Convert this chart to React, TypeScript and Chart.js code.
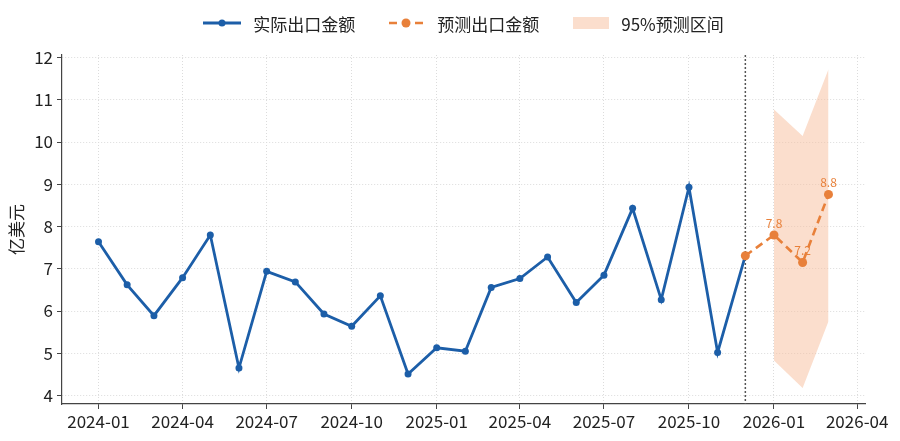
import React, { useEffect, useRef } from "react";
import { Chart, registerables } from "chart.js";

Chart.register(...registerables);

// ---- data ----
const actualDates = [
  "2024-01", "2024-02", "2024-03", "2024-04", "2024-05", "2024-06",
  "2024-07", "2024-08", "2024-09", "2024-10", "2024-11", "2024-12",
  "2025-01", "2025-02", "2025-03", "2025-04", "2025-05", "2025-06",
  "2025-07", "2025-08", "2025-09", "2025-10", "2025-11", "2025-12",
];
const actualValues = [
  7.64, 6.62, 5.89, 6.79, 7.8, 4.65,
  6.94, 6.69, 5.93, 5.64, 6.36, 4.51,
  5.13, 5.05, 6.56, 6.77, 7.28, 6.2,
  6.85, 8.43, 6.27, 8.93, 5.02, 7.31,
];
const forecastDates = ["2025-12", "2026-01", "2026-02", "2026-03"];
const forecastValues = [7.31, 7.8, 7.15, 8.76];
const bandDates = ["2026-01", "2026-02", "2026-03"];
const bandUpper = [10.77, 10.14, 11.72];
const bandLower = [4.83, 4.18, 5.76];
const xTickLabels = [
  "2024-01", "2024-04", "2024-07", "2024-10", "2025-01",
  "2025-04", "2025-07", "2025-10", "2026-01", "2026-04",
];
const yTickValues = [4, 5, 6, 7, 8, 9, 10, 11, 12];
const splitDate = "2025-12";

const LABEL_ACTUAL = "实际出口金额";
const LABEL_FORECAST = "预测出口金额";
const LABEL_BAND = "95%预测区间";
const Y_TITLE = "亿美元";

// ---- helpers ----
const BASE = Date.UTC(2024, 0, 1);
function toDays(ym: string): number {
  const [y, m] = ym.split("-").map(Number);
  return (Date.UTC(y, m - 1, 1) - BASE) / 86400000;
}

const FONT = '"Noto Sans CJK SC", "Noto Sans", sans-serif';
const BLUE = "#1c5ea8";
const ORANGE = "#e8803a";
const BAND = "rgba(247,190,155,0.5)";

const splitLinePlugin = {
  id: "splitLine",
  beforeDatasetsDraw(chart: any) {
    const { ctx, chartArea, scales } = chart;
    const x = scales.x.getPixelForValue(toDays(splitDate));
    ctx.save();
    ctx.strokeStyle = "#555";
    ctx.lineWidth = 1.5;
    ctx.setLineDash([2, 2]);
    ctx.beginPath();
    ctx.moveTo(x, chartArea.top);
    ctx.lineTo(x, chartArea.bottom);
    ctx.stroke();
    ctx.restore();
  },
};

const valueLabelPlugin = {
  id: "valueLabels",
  afterDatasetsDraw(chart: any) {
    const { ctx, scales } = chart;
    const split = toDays(splitDate);
    ctx.save();
    ctx.fillStyle = ORANGE;
    ctx.font = `12px ${FONT}`;
    ctx.textAlign = "center";
    ctx.textBaseline = "bottom";
    forecastDates.forEach((d, i) => {
      const xv = toDays(d);
      if (xv <= split) return;
      const x = scales.x.getPixelForValue(xv);
      const y = scales.y.getPixelForValue(forecastValues[i]);
      ctx.fillText(forecastValues[i].toFixed(1), x, y - 6);
    });
    ctx.restore();
  },
};

function LegendItem({ kind, label }: { kind: string; label: string }) {
  let handle: React.ReactNode;
  if (kind === "actual") {
    handle = (
      <svg width="38" height="14">
        <line x1="0" y1="7" x2="38" y2="7" stroke={BLUE} strokeWidth="2.8" />
        <circle cx="19" cy="7" r="3.5" fill={BLUE} />
      </svg>
    );
  } else if (kind === "forecast") {
    handle = (
      <svg width="36" height="14">
        <line x1="0" y1="7" x2="36" y2="7" stroke={ORANGE} strokeWidth="2.6" strokeDasharray="8 5" />
        <circle cx="17" cy="7" r="4.5" fill={ORANGE} />
      </svg>
    );
  } else {
    handle = (
      <svg width="36" height="14">
        <rect x="0" y="1" width="36" height="12" fill={BAND} />
      </svg>
    );
  }
  return (
    <div style={{ display: "flex", alignItems: "center", marginRight: 34 }}>
      {handle}
      <span style={{ marginLeft: 12, fontSize: 17, color: "#222", fontFamily: FONT, whiteSpace: "nowrap" }}>
        {label}
      </span>
    </div>
  );
}

export default function App() {
  const canvasRef = useRef<HTMLCanvasElement | null>(null);

  useEffect(() => {
    if (!canvasRef.current) return;
    const chart = new Chart(canvasRef.current, {
      type: "line",
      data: {
        datasets: [
          {
            label: LABEL_BAND + "上",
            data: bandDates.map((d, i) => ({ x: toDays(d), y: bandUpper[i] })),
            borderWidth: 0,
            pointRadius: 0,
            backgroundColor: BAND,
            fill: "+1",
            order: 3,
          },
          {
            label: LABEL_BAND + "下",
            data: bandDates.map((d, i) => ({ x: toDays(d), y: bandLower[i] })),
            borderWidth: 0,
            pointRadius: 0,
            fill: false,
            order: 3,
          },
          {
            label: LABEL_ACTUAL,
            data: actualDates.map((d, i) => ({ x: toDays(d), y: actualValues[i] })),
            borderColor: BLUE,
            backgroundColor: BLUE,
            borderWidth: 2.8,
            pointRadius: 3.5,
            pointBackgroundColor: BLUE,
            pointBorderWidth: 0,
            tension: 0,
            fill: false,
            order: 2,
          },
          {
            label: LABEL_FORECAST,
            data: forecastDates.map((d, i) => ({ x: toDays(d), y: forecastValues[i] })),
            borderColor: ORANGE,
            backgroundColor: ORANGE,
            borderWidth: 2.6,
            borderDash: [8, 5],
            pointRadius: 4.5,
            pointBackgroundColor: ORANGE,
            pointBorderWidth: 0,
            tension: 0,
            fill: false,
            order: 1,
          },
        ],
      },
      options: {
        animation: false,
        responsive: false,
        maintainAspectRatio: false,
        layout: { padding: { top: 55, right: 35, left: 0, bottom: 0 } },
        plugins: {
          legend: { display: false },
          tooltip: { enabled: false },
          filler: { drawTime: "beforeDatasetsDraw" } as any,
        },
        scales: {
          x: {
            type: "linear",
            min: -39.5,
            max: 829.5,
            afterBuildTicks: (scale: any) => {
              scale.ticks = xTickLabels.map((l) => ({ value: toDays(l) }));
            },
            afterFit: (scale: any) => {
              scale.height = 37;
            },
            ticks: {
              autoSkip: false,
              maxRotation: 0,
              padding: 2,
              color: "#222",
              font: { family: FONT, size: 17 },
              callback: (v: any) => {
                const idx = xTickLabels.findIndex((l) => toDays(l) === v);
                return idx >= 0 ? xTickLabels[idx] : "";
              },
            },
            grid: {
              color: "#dcdcdc",
              lineWidth: 1,
              tickColor: "#444",
              tickLength: 5,
              tickWidth: 1,
            },
            border: { display: true, color: "#444", width: 1.2, dash: [1, 2] },
          },
          y: {
            type: "linear",
            min: 3.8,
            max: 12.06,
            afterBuildTicks: (scale: any) => {
              scale.ticks = yTickValues.map((v) => ({ value: v }));
            },
            afterFit: (scale: any) => {
              scale.width = 62;
            },
            ticks: {
              padding: 4,
              color: "#222",
              font: { family: FONT, size: 17 },
              callback: (v: any) => String(v),
            },
            grid: {
              color: "#dcdcdc",
              lineWidth: 1,
              tickColor: "#444",
              tickLength: 5,
              tickWidth: 1,
            },
            border: { display: true, color: "#444", width: 1.2, dash: [1, 2] },
            title: {
              display: true,
              text: Y_TITLE,
              color: "#222",
              font: { family: FONT, size: 17 },
              padding: { top: 6, bottom: 0 },
            },
          },
        },
      },
      plugins: [splitLinePlugin, valueLabelPlugin],
    });
    return () => chart.destroy();
  }, []);

  return (
    <div style={{ position: "absolute", left: 0, top: 0, width: 900, height: 441, background: "#fff" }}>
      <canvas ref={canvasRef} width={900} height={441} style={{ position: "absolute", left: 0, top: 0, width: 900, height: 441 }} />
      <div
        style={{
          position: "absolute",
          left: 62,
          top: 0,
          width: 803,
          height: 46,
          display: "flex",
          justifyContent: "center",
          alignItems: "center",
          paddingLeft: 34,
          boxSizing: "border-box",
        }}
      >
        <LegendItem kind="actual" label={LABEL_ACTUAL} />
        <LegendItem kind="forecast" label={LABEL_FORECAST} />
        <LegendItem kind="band" label={LABEL_BAND} />
      </div>
    </div>
  );
}
